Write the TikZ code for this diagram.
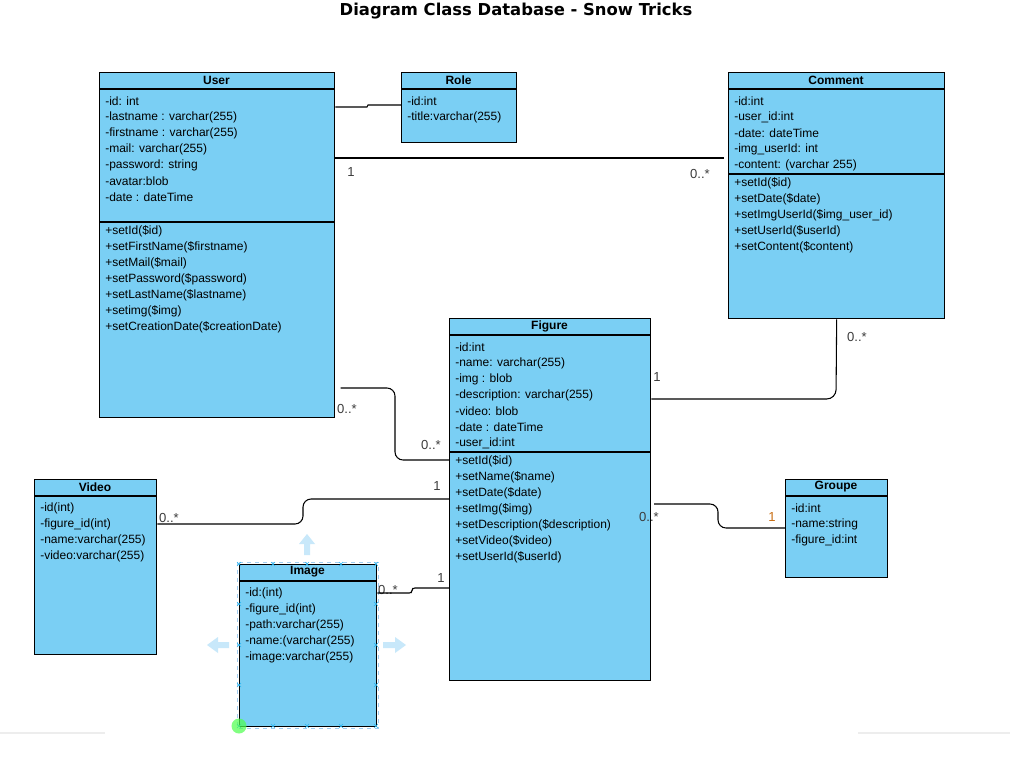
\documentclass[tikz,border=0pt]{standalone}
\usepackage{fontspec}
\setmainfont{Liberation Sans}
\newfontfamily\titlefont{DejaVu Sans}
\definecolor{umlblue}{RGB}{122,207,244}
\definecolor{lblgray}{RGB}{60,60,60}
\definecolor{lblorange}{RGB}{200,110,20}
\definecolor{uiblue}{RGB}{200,232,250}
\definecolor{uimark}{RGB}{41,182,242}
\definecolor{uidash}{RGB}{160,205,240}
\begin{document}
\begin{tikzpicture}[x=0.75pt,y=-0.75pt,
  classbox/.style={draw=black,fill=umlblue,line width=1pt,inner sep=0pt,anchor=north west,rectangle},
  txt/.style={anchor=west,inner sep=0pt,font=\fontsize{9}{10}\selectfont,yshift=-1.2pt},
  ttl/.style={anchor=center,inner sep=0pt,font=\fontsize{9}{10}\selectfont\bfseries},
  conn/.style={draw=black,line width=0.8pt},
  lbl/.style={inner sep=0pt,text=lblgray,font=\fontsize{9.8}{11}\selectfont},
  xmark/.style={draw=uimark,line width=0.5pt}]
\useasboundingbox (0,0) rectangle (1023,770);
\fill[white] (0,0) rectangle (1023,770);

\node[inner sep=0pt,font=\fontsize{12.3}{14}\titlefont\bfseries] (title) at (516,11) {Diagram Class Database - Snow Tricks};

% ---------- User ----------
\node[classbox,minimum width=176.25pt,minimum height=258.75pt] (user) at (99,72) {};
\draw[line width=1pt] (99,89) -- (334,89) (99,222) -- (334,222);
\node[ttl] (userT) at (216.5,80) {User};
\node[txt] (u1) at (105,100) {-id: int};
\node[txt] (u2) at (105,116) {-lastname : varchar(255)};
\node[txt] (u3) at (105,132) {-firstname : varchar(255)};
\node[txt] (u4) at (105,148) {-mail: varchar(255)};
\node[txt] (u5) at (105,164) {-password: string};
\node[txt] (u6) at (105,180) {-avatar:blob};
\node[txt] (u7) at (105,196) {-date : dateTime};
\node[txt] (um1) at (105,230) {+setId(\$id)};
\node[txt] (um2) at (105,246) {+setFirstName(\$firstname)};
\node[txt] (um3) at (105,262) {+setMail(\$mail)};
\node[txt] (um4) at (105,278) {+setPassword(\$password)};
\node[txt] (um5) at (105,294) {+setLastName(\$lastname)};
\node[txt] (um6) at (105,310) {+setimg(\$img)};
\node[txt] (um7) at (105,326) {+setCreationDate(\$creationDate)};

% ---------- Role ----------
\node[classbox,minimum width=86.25pt,minimum height=52.5pt] (role) at (401,72) {};
\draw[line width=1pt] (401,89) -- (516,89);
\node[ttl] (roleT) at (458.5,80) {Role};
\node[txt] (r1) at (407,100) {-id:int};
\node[txt] (r2) at (407,116) {-title:varchar(255)};

% ---------- Comment ----------
\node[classbox,minimum width=162pt,minimum height=184.5pt] (comment) at (728,72) {};
\draw[line width=1pt] (728,89) -- (944,89) (728,174) -- (944,174);
\node[ttl] (commentT) at (836,80) {Comment};
\node[txt] (c1) at (734,100) {-id:int};
\node[txt] (c2) at (734,116) {-user\_id:int};
\node[txt] (c3) at (734,132) {-date: dateTime};
\node[txt] (c4) at (734,148) {-img\_userId: int};
\node[txt] (c5) at (734,164) {-content: (varchar 255)};
\node[txt] (cm1) at (734,182) {+setId(\$id)};
\node[txt] (cm2) at (734,198) {+setDate(\$date)};
\node[txt] (cm3) at (734,214) {+setImgUserId(\$img\_user\_id)};
\node[txt] (cm4) at (734,230) {+setUserId(\$userId)};
\node[txt] (cm5) at (734,246) {+setContent(\$content)};

% ---------- Figure ----------
\node[classbox,minimum width=150.75pt,minimum height=271.5pt] (figure) at (449,318) {};
\draw[line width=1pt] (449,335) -- (650,335) (449,452) -- (650,452);
\node[ttl] (figureT) at (549.5,326) {Figure};
\node[txt] (f1) at (455,346) {-id:int};
\node[txt] (f2) at (455,362) {-name: varchar(255)};
\node[txt] (f3) at (455,378) {-img : blob};
\node[txt] (f4) at (455,394) {-description: varchar(255)};
\node[txt] (f5) at (455,410) {-video: blob};
\node[txt] (f6) at (455,426) {-date : dateTime};
\node[txt] (f7) at (455,442) {-user\_id:int};
\node[txt] (fm1) at (455,460) {+setId(\$id)};
\node[txt] (fm2) at (455,476) {+setName(\$name)};
\node[txt] (fm3) at (455,492) {+setDate(\$date)};
\node[txt] (fm4) at (455,508) {+setImg(\$img)};
\node[txt] (fm5) at (455,524) {+setDescription(\$description)};
\node[txt] (fm6) at (455,540) {+setVideo(\$video)};
\node[txt] (fm7) at (455,556) {+setUserId(\$userId)};

% ---------- Video ----------
\node[classbox,minimum width=91.5pt,minimum height=131.25pt] (video) at (34,479) {};
\draw[line width=1pt] (34,496) -- (156,496);
\node[ttl] (videoT) at (95,487) {Video};
\node[txt] (v1) at (40,507) {-id(int)};
\node[txt] (v2) at (40,523) {-figure\_id(int)};
\node[txt] (v3) at (40,539) {-name:varchar(255)};
\node[txt] (v4) at (40,555) {-video:varchar(255)};

% ---------- Image ----------
\node[classbox,minimum width=102.75pt,minimum height=121.5pt] (image) at (239,564) {};
\draw[line width=1pt] (239,581) -- (376,581);
\node[ttl] (imageT) at (307.5,572) {Image};
\node[txt] (i1) at (245,592) {-id:(int)};
\node[txt] (i2) at (245,608) {-figure\_id(int)};
\node[txt] (i3) at (245,624) {-path:varchar(255)};
\node[txt] (i4) at (245,640) {-name:(varchar(255)};
\node[txt] (i5) at (245,656) {-image:varchar(255)};

% ---------- Groupe ----------
\node[classbox,minimum width=76.5pt,minimum height=73.5pt] (groupe) at (785,479) {};
\draw[line width=1pt] (785,496) -- (887,496);
\node[ttl] (groupeT) at (836,487) {Groupe};
\node[txt] (g1) at (791,507) {-id:int};
\node[txt] (g2) at (791,523) {-name:string};
\node[txt] (g3) at (791,539) {-figure\_id:int};

% ---------- selection artefacts around Image ----------
\draw[uidash,dashed,line width=0.6pt] (237,562) rectangle (378,728);
\foreach \px in {239,273,307,341,376}{
  \draw[xmark] (\px-2,562) -- (\px+2,566) (\px-2,566) -- (\px+2,562);
  \draw[xmark] (\px-2,724) -- (\px+2,728) (\px-2,728) -- (\px+2,724);}
\foreach \py in {604,645,685}{
  \draw[xmark] (237,\py-2) -- (241,\py+2) (237,\py+2) -- (241,\py-2);
  \draw[xmark] (374,\py-2) -- (378,\py+2) (374,\py+2) -- (378,\py-2);}
\fill[uiblue] (304,555) -- (304,544) -- (299,544) -- (307,534) -- (315,544) -- (310,544) -- (310,555) -- cycle;
\fill[uiblue] (229,642) -- (218,642) -- (218,637) -- (207,645) -- (218,653) -- (218,648) -- (229,648) -- cycle;
\fill[uiblue] (383,642) -- (395,642) -- (395,637) -- (406,645) -- (395,653) -- (395,648) -- (383,648) -- cycle;
\fill[green!70!white,opacity=0.7] (239,726) circle[radius=7.5];
\draw[black!7,line width=0.8pt] (0,733) -- (105,733) (858,733) -- (1010,733);

% ---------- Connectors ----------
\draw[conn] (user.east |- 0,107) -- (367,107) -- (368,105) -- (role.west |- 0,105);
\draw[conn,shorten >=3pt] (user.east |- 0,158) -- (comment.west |- 0,158);
\node[lbl] (l1) at (351,172) {1};
\node[lbl] (l2) at (700,174) {0..*};

\draw[conn,rounded corners=6pt,shorten <=4pt] (user.east |- 0,388) -- (395,388) -- (395,460) -- (figure.west |- 0,460);
\node[lbl] (l3) at (347,409) {0..*};
\node[lbl] (l4) at (431,445) {0..*};

\draw[conn,rounded corners=7pt] (figure.east |- 0,399) -- (836,399) -- (comment.south);
\node[lbl] (l5) at (657,377) {1};
\node[lbl] (l6) at (857,337) {0..*};

\draw[conn,rounded corners=6pt] (video.east |- 0,524) -- (303,524) -- (303,499) -- (figure.west |- 0,499);
\node[lbl] (l7) at (169,518) {0..*};
\node[lbl] (l8) at (437,486) {1};

\draw[conn,rounded corners=6pt,shorten <=2pt] (figure.east |- 0,504) -- (718,504) -- (718,528) -- (groupe.west |- 0,528);
\node[lbl] (l9) at (649,517) {0..*};
\node[lbl,text=lblorange] (l10) at (772,517) {1};

\node[lbl] (l11) at (388,590) {0..*};
\node[lbl] (l12) at (441,578) {1};
\draw[conn,rounded corners=2pt] (image.east |- 0,593) -- (412,593) -- (412,588) -- (figure.west |- 0,588);
\end{tikzpicture}
\end{document}
